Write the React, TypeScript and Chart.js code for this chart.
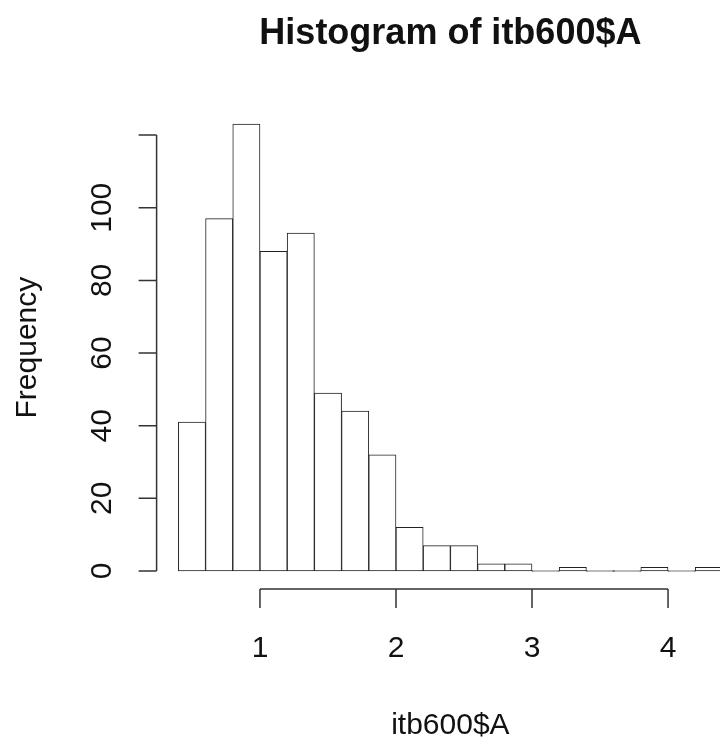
import React, { useEffect, useRef } from "react";
import { Chart, registerables } from "chart.js";

Chart.register(...registerables);

// ---- data ----
const binLefts = [0.4, 0.6, 0.8, 1.0, 1.2, 1.4, 1.6, 1.8, 2.0, 2.2, 2.4, 2.6, 2.8, 3.0, 3.2, 3.4, 3.6, 3.8, 4.0, 4.2];
const counts = [41, 97, 123, 88, 93, 49, 44, 32, 12, 7, 7, 2, 2, 0, 1, 0, 0, 1, 0, 1];
const binWidth = 0.2;
const yTicks = [0, 20, 40, 60, 80, 100, 120];
const yTickLabels = ["0", "20", "40", "60", "80", "100", ""];
const xTicks = [1, 2, 3, 4];
const xTickLabels = ["1", "2", "3", "4"];
const titleText = "Histogram of itb600$A";
const xLabelText = "itb600$A";
const yLabelText = "Frequency";

const FONT = "'Liberation Sans', Arial, Helvetica, sans-serif";

const rAxesPlugin = {
  id: "rAxes",
  afterDraw(chart: any) {
    const ctx = chart.ctx as CanvasRenderingContext2D;
    const xs = chart.scales.x;
    const ys = chart.scales.y;
    const area = chart.chartArea;
    const ink = "#333";
    ctx.save();
    ctx.strokeStyle = ink;
    ctx.fillStyle = "#111";
    ctx.lineWidth = 1.5;

    // y axis
    const ax = area.left;
    const tickLen = 18;
    ctx.beginPath();
    ctx.moveTo(ax, ys.getPixelForValue(yTicks[0]));
    ctx.lineTo(ax, ys.getPixelForValue(yTicks[yTicks.length - 1]));
    yTicks.forEach((t) => {
      const py = ys.getPixelForValue(t);
      ctx.moveTo(ax, py);
      ctx.lineTo(ax - tickLen, py);
    });
    ctx.stroke();

    ctx.font = `30px ${FONT}`;
    ctx.textAlign = "center";
    ctx.textBaseline = "alphabetic";
    yTicks.forEach((t, i) => {
      const py = ys.getPixelForValue(t);
      ctx.save();
      ctx.translate(111, py);
      ctx.rotate(-Math.PI / 2);
      ctx.fillText(yTickLabels[i], 0, 0);
      ctx.restore();
    });

    // x axis
    const ay = area.bottom;
    ctx.beginPath();
    ctx.moveTo(xs.getPixelForValue(xTicks[0]), ay);
    ctx.lineTo(xs.getPixelForValue(xTicks[xTicks.length - 1]), ay);
    xTicks.forEach((t) => {
      const px = xs.getPixelForValue(t);
      ctx.moveTo(px, ay);
      ctx.lineTo(px, ay + 19);
    });
    ctx.stroke();
    xTicks.forEach((t, i) => {
      const px = xs.getPixelForValue(t);
      ctx.fillText(xTickLabels[i], px, 657);
    });

    // axis titles
    const cx = (area.left + area.right) / 2;
    const cy = (area.top + area.bottom) / 2;
    ctx.fillText(xLabelText, cx, 734);
    ctx.save();
    ctx.translate(36, cy);
    ctx.rotate(-Math.PI / 2);
    ctx.fillText(yLabelText, 0, 0);
    ctx.restore();

    // main title
    ctx.font = `bold 36px ${FONT}`;
    ctx.fillText(titleText, cx, 44);
    ctx.restore();
  },
};

export default function App() {
  const ref = useRef<HTMLCanvasElement | null>(null);

  useEffect(() => {
    if (!ref.current) return;
    const xMin = binLefts[0] - 0.04 * (binLefts[binLefts.length - 1] + binWidth - binLefts[0]);
    const xMax = binLefts[binLefts.length - 1] + binWidth + 0.04 * (binLefts[binLefts.length - 1] + binWidth - binLefts[0]);
    const maxCount = Math.max(...counts);
    const chart = new Chart(ref.current, {
      type: "bar",
      data: {
        datasets: [
          {
            data: binLefts.map((l, i) => ({ x: l + binWidth / 2, y: counts[i] })),
            backgroundColor: "#ffffff",
            borderColor: "#222",
            borderWidth: 1,
            borderSkipped: false,
            barPercentage: 1,
            categoryPercentage: 1,
            minBarLength: 1,
          } as any,
        ],
      },
      options: {
        responsive: false,
        animation: false,
        devicePixelRatio: 1,
        layout: { padding: { left: 156.6, right: 15.8, top: 106.3, bottom: 151.1 } },
        plugins: { legend: { display: false }, tooltip: { enabled: false }, title: { display: false } },
        scales: {
          x: { type: "linear", min: xMin, max: xMax, display: false, offset: false },
          y: { type: "linear", min: -0.04 * maxCount, max: maxCount * 1.04, display: false },
        },
      },
      plugins: [rAxesPlugin],
    });
    return () => chart.destroy();
  }, []);

  return (
    <div
      style={{
        position: "fixed",
        left: 0,
        top: 0,
        width: 720,
        height: 740,
        overflow: "hidden",
        background: "#fff",
      }}
    >
      <canvas ref={ref} width={760} height={740} style={{ display: "block" }} />
    </div>
  );
}
